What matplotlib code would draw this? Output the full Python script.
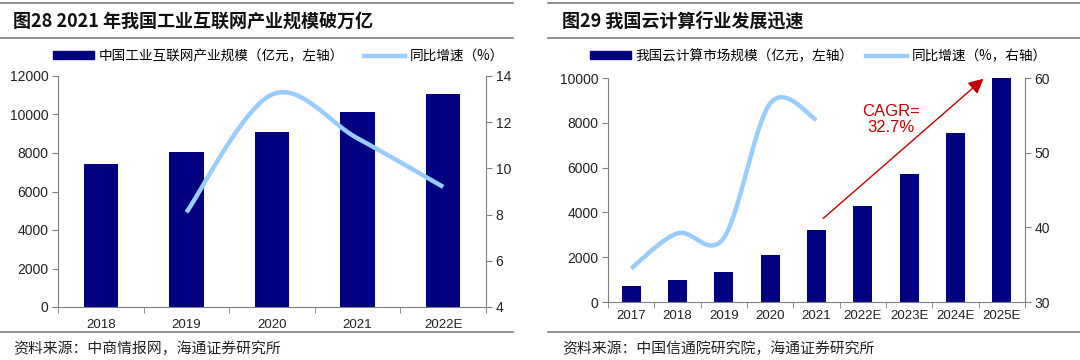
import numpy as np
import matplotlib
matplotlib.use('Agg')
from matplotlib import pyplot as plt
from matplotlib.lines import Line2D
from matplotlib.patches import Patch

plt.rcParams['font.family'] = ['Noto Sans CJK SC', 'DejaVu Sans']

# Left chart data: industrial internet
years_a = ['2018', '2019', '2020', '2021', '2022E']
scale_a = [7430, 8050, 9090, 10130, 11060]
growth_a_years = [1, 2, 3, 4]
growth_a = [8.1, 13.2, 11.3, 9.2]

# Right chart data: cloud computing
years_b = ['2017', '2018', '2019', '2020', '2021', '2022E', '2023E', '2024E', '2025E']
scale_b = [692, 963, 1334, 2091, 3229, 4300, 5700, 7550, 10000]
growth_b_years = [0, 1, 2, 3, 4]
growth_b = [34.5, 39.2, 38.6, 56.6, 54.4]

NAVY = '#000080'
LIGHT = '#99CCFF'
GRAY = '#808080'
TXT = '#222222'
num_font = ['Liberation Sans', 'DejaVu Sans']


def smooth(xs, ys, n=40):
    # Excel-style smoothed line (cubic bezier, Catmull-Rom control points)
    p = np.column_stack([xs, ys]).astype(float)
    out = []
    for i in range(len(p) - 1):
        p0 = p[i - 1] if i > 0 else p[i]
        p1, p2 = p[i], p[i + 1]
        p3 = p[i + 2] if i + 2 < len(p) else p[i + 1]
        c1 = p1 + (p2 - p0) / 6
        c2 = p2 - (p3 - p1) / 6
        t = np.linspace(0, 1, n)[:, None]
        seg = (1 - t) ** 3 * p1 + 3 * (1 - t) ** 2 * t * c1 + 3 * (1 - t) * t ** 2 * c2 + t ** 3 * p2
        out.append(seg if i == 0 else seg[1:])
    seg = np.vstack(out)
    return seg[:, 0], seg[:, 1]


fig = plt.figure(figsize=(10.8, 3.6), dpi=100)


def style_axes(ax, ax2):
    for a in (ax, ax2):
        a.spines['top'].set_visible(False)
        for s in ('left', 'right', 'bottom'):
            a.spines[s].set_color(GRAY)
            a.spines[s].set_linewidth(0.8)
    ax.spines['right'].set_visible(False)
    ax2.spines['left'].set_visible(False)
    ax2.spines['bottom'].set_visible(False)
    ax.tick_params(axis='y', direction='out', length=4, color=GRAY, labelsize=10, labelcolor=TXT, pad=3)
    ax2.tick_params(axis='y', direction='out', length=4, color=GRAY, labelsize=10, labelcolor=TXT, pad=3)
    for lab in ax.get_yticklabels() + ax2.get_yticklabels():
        lab.set_family(num_font)


# ---------- left panel ----------
ax = fig.add_axes([58 / 1080, 1 - 307 / 360, 428 / 1080, 231 / 360])
xa = np.arange(len(years_a))
ax.bar(xa, scale_a, width=0.4, color=NAVY, zorder=2)
ax.set_xlim(-0.5, len(years_a) - 0.5)
ax.set_ylim(0, 12000)
ax.set_yticks(range(0, 12001, 2000))
ax.set_xticks(xa)
ax.set_xticks(np.arange(-0.5, len(years_a)), minor=True)
ax.set_xticklabels(years_a, family=num_font, fontsize=9.5, color=TXT)
ax.tick_params(axis='x', which='major', length=0, pad=9)
ax.tick_params(axis='x', which='minor', length=4, color=GRAY, direction='out')
ax2 = ax.twinx()
ax2.set_ylim(4, 14)
ax2.set_yticks(range(4, 15, 2))
sx, sy = smooth(growth_a_years, growth_a)
ax2.plot(sx, sy, color=LIGHT, lw=3.2, solid_capstyle='butt', zorder=3)
style_axes(ax, ax2)

# ---------- right panel ----------
bx = fig.add_axes([608 / 1080, 1 - 302 / 360, 417 / 1080, 224 / 360])
xb = np.arange(len(years_b))
bx.bar(xb, scale_b, width=0.41, color=NAVY, zorder=2)
bx.set_xlim(-0.5, len(years_b) - 0.5)
bx.set_ylim(0, 10000)
bx.set_yticks(range(0, 10001, 2000))
bx.set_xticks(xb)
bx.set_xticks(np.arange(-0.5, len(years_b)), minor=True)
bx.set_xticklabels(years_b, family=num_font, fontsize=9.5, color=TXT)
bx.tick_params(axis='x', which='major', length=0, pad=6)
bx.tick_params(axis='x', which='minor', length=4, color=GRAY, direction='out')
bx2 = bx.twinx()
bx2.set_ylim(30, 60)
bx2.set_yticks(range(30, 61, 10))
sx, sy = smooth(growth_b_years, growth_b)
bx2.plot(sx, sy, color=LIGHT, lw=3.2, solid_capstyle='butt', zorder=3)
style_axes(bx, bx2)

bx.annotate('', xy=(7.65, 10050), xytext=(4.1, 3650),
            arrowprops=dict(arrowstyle='-|>,head_length=0.9,head_width=0.45', color='#C00000', lw=1.0),
            annotation_clip=False, zorder=5)
bx.text(5.6, 8150, 'CAGR=\n32.7%', color='#C00000', fontsize=12, ha='center', va='center',
        family=num_font, linespacing=1.1)

# ---------- titles, rules, legends, sources ----------
rule = dict(color='#7f7f7f', lw=1.2)
for y in (3, 38, 332):
    fig.add_artist(Line2D([0, 513 / 1080], [1 - y / 360] * 2, transform=fig.transFigure, **rule))
    fig.add_artist(Line2D([548 / 1080, 1.0], [1 - y / 360] * 2, transform=fig.transFigure, **rule))

fig.text(13 / 1080, 1 - 21 / 360, '图28 2021 年我国工业互联网产业规模破万亿', fontsize=13,
         fontweight='bold', va='center', ha='left', color='#111111')
fig.text(562 / 1080, 1 - 21 / 360, '图29 我国云计算行业发展迅速', fontsize=13,
         fontweight='bold', va='center', ha='left', color='#111111')

fig.legend([Patch(color=NAVY), Line2D([], [], color=LIGHT, lw=3.2)],
           ['中国工业互联网产业规模（亿元，左轴）', '同比增速（%）'],
           loc='center left', bbox_to_anchor=(53 / 1080, 1 - 56 / 360), ncol=2, frameon=False,
           fontsize=9.8, handlelength=3.0, handleheight=0.55, columnspacing=1.5, handletextpad=0.35,
           borderaxespad=0, borderpad=0)
fig.legend([Patch(color=NAVY), Line2D([], [], color=LIGHT, lw=3.2)],
           ['我国云计算市场规模（亿元，左轴）', '同比增速（%，右轴）'],
           loc='center left', bbox_to_anchor=(590 / 1080, 1 - 56 / 360), ncol=2, frameon=False,
           fontsize=9.8, handlelength=3.0, handleheight=0.55, columnspacing=0.9, handletextpad=0.35,
           borderaxespad=0, borderpad=0)

fig.text(13 / 1080, 1 - 349 / 360, '资料来源：中商情报网，海通证券研究所', fontsize=10.7, va='center', color=TXT)
fig.text(562 / 1080, 1 - 349 / 360, '资料来源：中国信通院研究院，海通证券研究所', fontsize=10.7, va='center', color=TXT)

fig.savefig('out.png', dpi=100)
